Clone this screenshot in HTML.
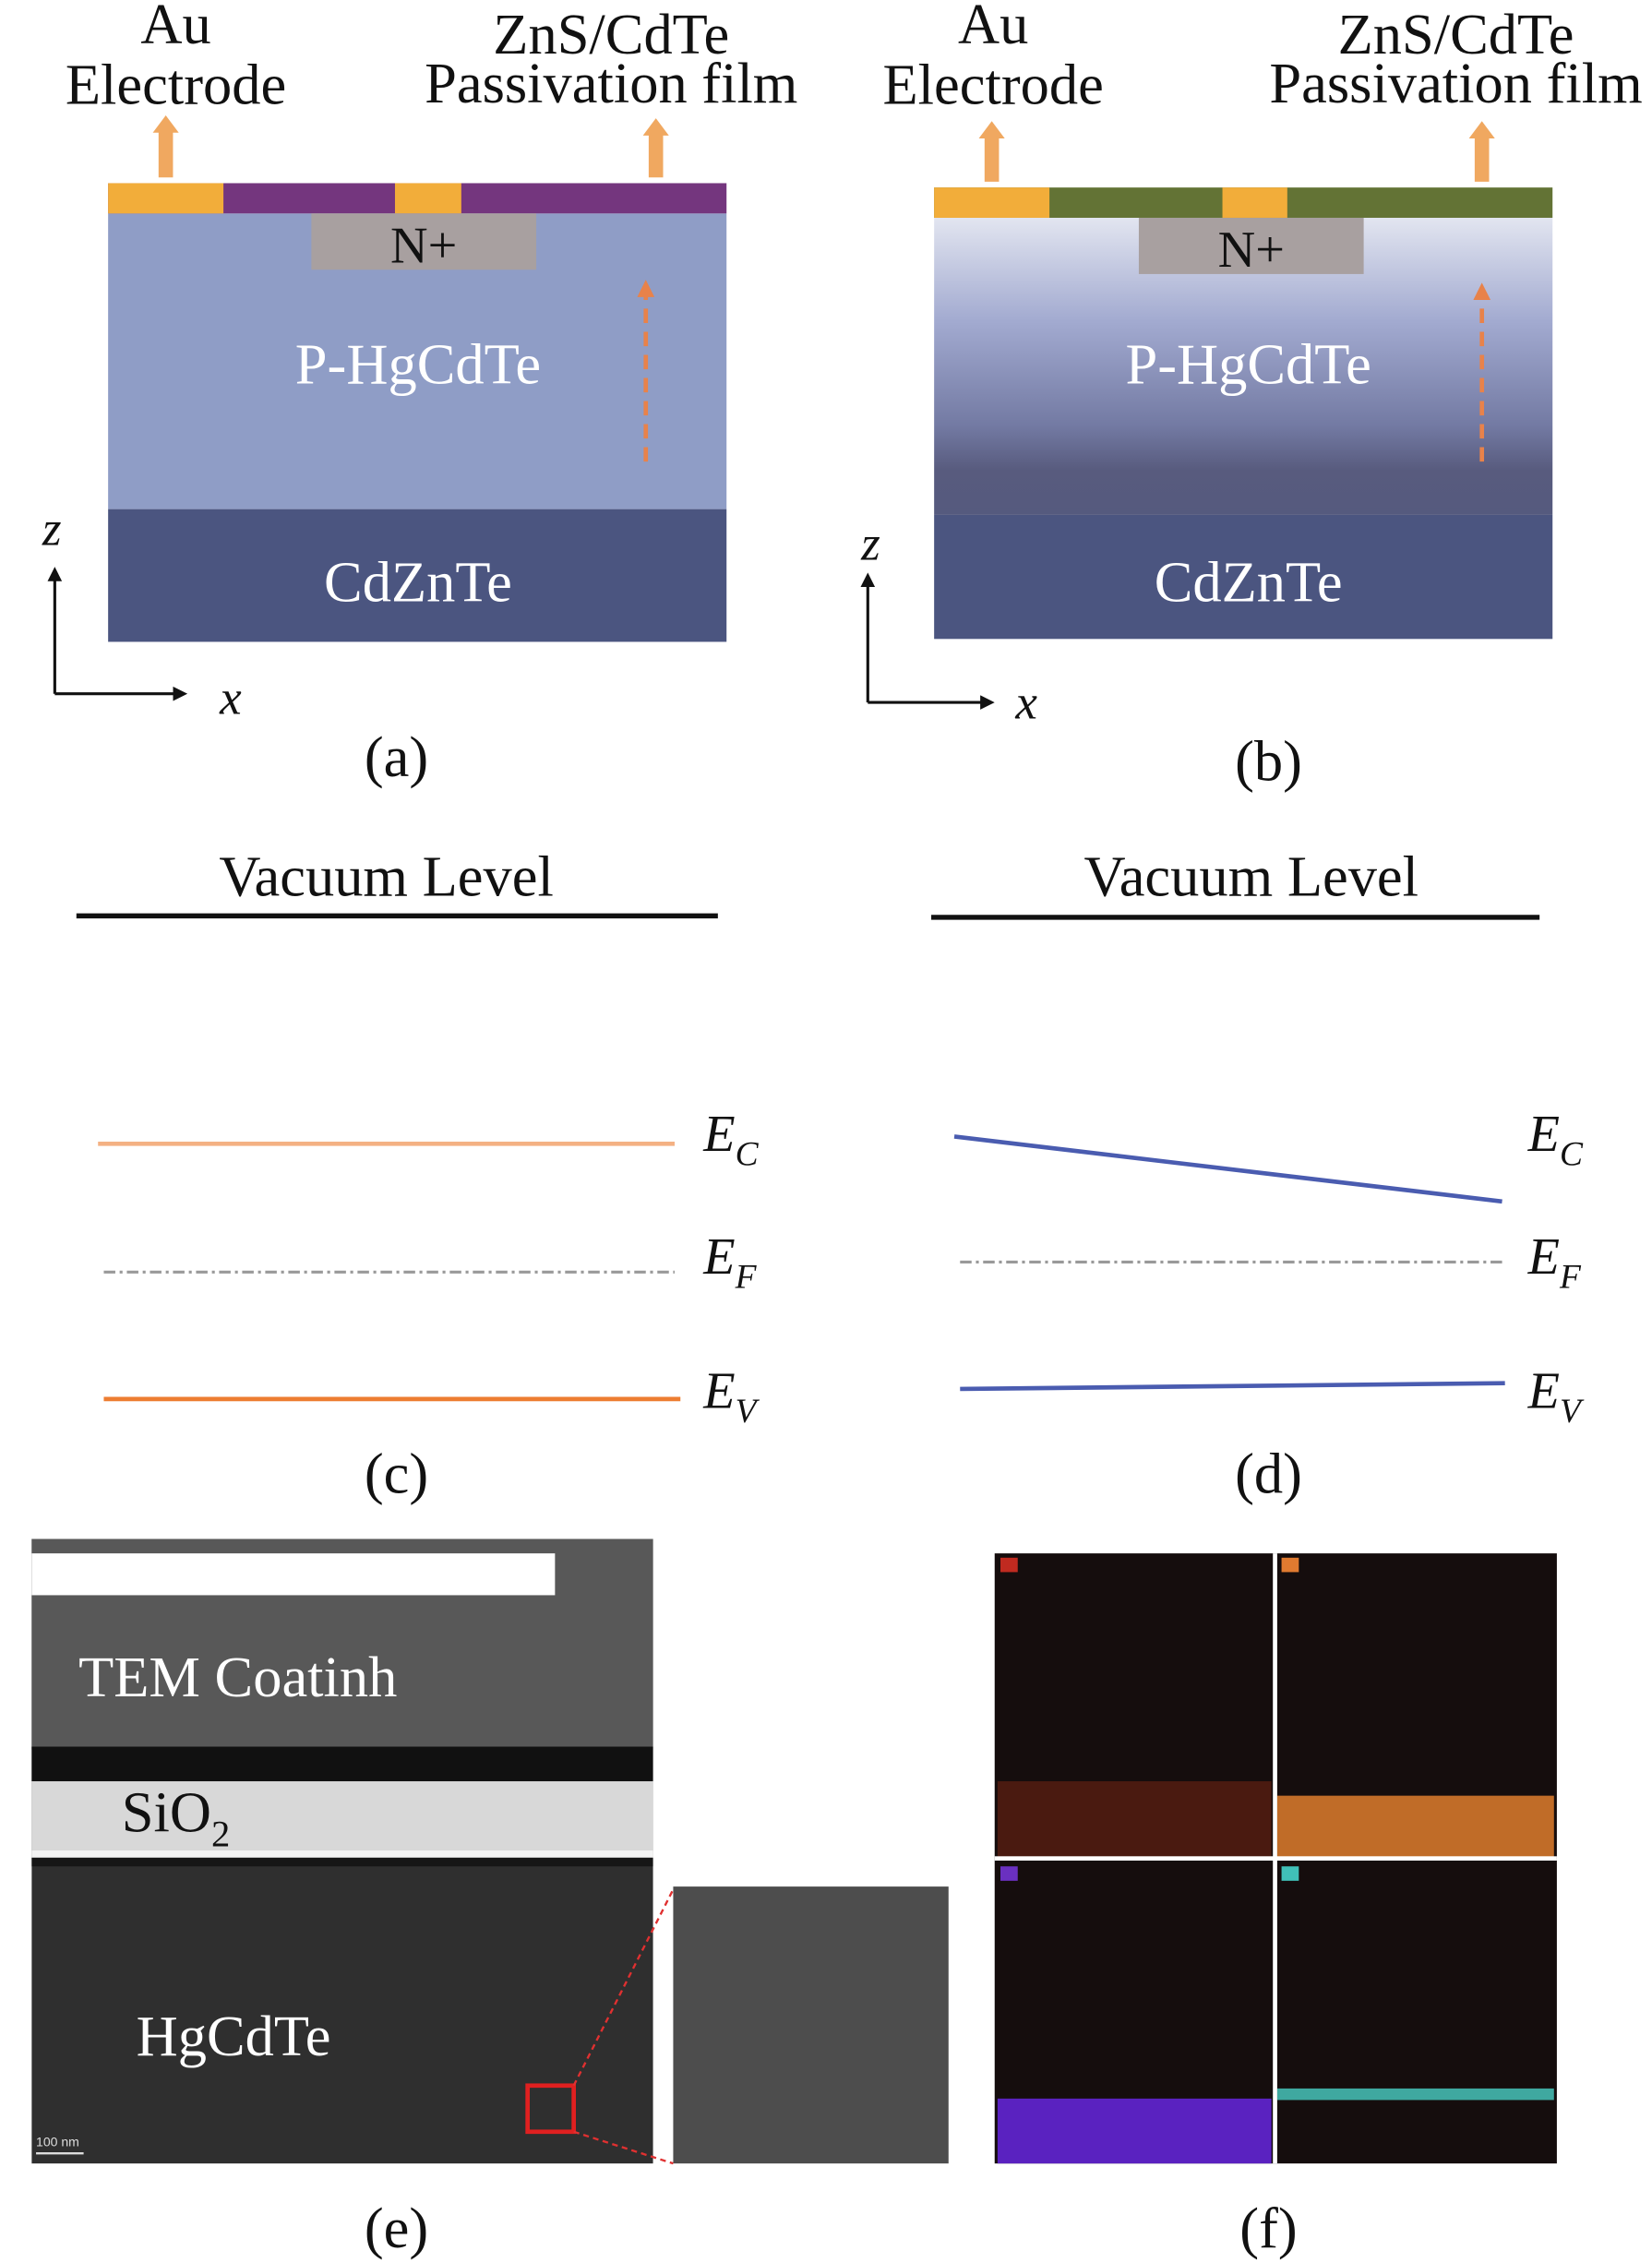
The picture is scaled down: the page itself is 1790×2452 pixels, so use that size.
<!DOCTYPE html>
<html><head><meta charset="utf-8"><style>html,body{margin:0;padding:0;background:#fff}svg{display:block}</style></head>
<body>
<svg width="1790" height="2452" viewBox="0 0 1146 1569" preserveAspectRatio="none" xmlns="http://www.w3.org/2000/svg" font-family="Liberation Serif, serif">
<defs>
<linearGradient id="gb" x1="0" y1="0" x2="0" y2="1">
<stop offset="0" stop-color="#e2e5f0"/><stop offset="0.35" stop-color="#a2aad0"/><stop offset="0.7" stop-color="#737aa3"/><stop offset="0.85" stop-color="#585b7e"/><stop offset="1" stop-color="#555a7e"/>
</linearGradient>
<marker id="ah" viewBox="0 0 10 10" refX="5" refY="5" markerWidth="5" markerHeight="5" orient="auto"><path d="M0,0L10,5L0,10z" fill="#111"/></marker>
<marker id="ao" viewBox="0 0 10 10" refX="5" refY="5" markerWidth="4" markerHeight="4" orient="auto"><path d="M0,0L10,5L0,10z" fill="#e8824a"/></marker>
</defs>
<g font-size="40" fill="#111" text-anchor="middle">
<!-- (a) -->
<text x="122" y="30">Au</text><text x="122" y="72">Electrode</text>
<text x="424" y="37">ZnS/CdTe</text><text x="424" y="71">Passivation film</text>
<path d="M110,123V92H106L115,80L124,92H120V123Z" fill="#f0a860"/>
<path d="M450,123V94H446L455,82L464,94H460V123Z" fill="#f0a860"/>
<rect x="75" y="148" width="429" height="205" fill="#8f9dc6"/>
<rect x="75" y="353" width="429" height="92" fill="#4b5580"/>
<rect x="75" y="127" width="429" height="21" fill="#74367e"/>
<rect x="75" y="127" width="80" height="21" fill="#f2ad3a"/>
<rect x="274" y="127" width="46" height="21" fill="#f2ad3a"/>
<rect x="216" y="148" width="156" height="39" fill="#a8a0a0"/>
<text x="294" y="182" font-size="36">N+</text>
<text x="290" y="266" fill="#fff">P-HgCdTe</text>
<text x="290" y="417" fill="#fff">CdZnTe</text>
<line x1="448" y1="320" x2="448" y2="200" stroke="#e8824a" stroke-width="3" stroke-dasharray="10,6" marker-end="url(#ao)"/>
<line x1="38" y1="481" x2="38" y2="398" stroke="#111" stroke-width="2" marker-end="url(#ah)"/>
<line x1="38" y1="481" x2="125" y2="481" stroke="#111" stroke-width="2" marker-end="url(#ah)"/>
<text x="36" y="378" font-style="italic" font-size="34">z</text>
<text x="160" y="495" font-style="italic" font-size="34">x</text>
<text x="275" y="538">(a)</text>
<!-- (b) -->
<text x="689" y="30">Au</text><text x="689" y="72">Electrode</text>
<text x="1010" y="37">ZnS/CdTe</text><text x="1010" y="71">Passivation film</text>
<path d="M683,126V96H679L688,84L697,96H693V126Z" fill="#f0a860"/>
<path d="M1023,126V96H1019L1028,84L1037,96H1033V126Z" fill="#f0a860"/>
<rect x="648" y="151" width="429" height="206" fill="url(#gb)"/>
<rect x="648" y="357" width="429" height="86" fill="#4b5580"/>
<rect x="648" y="130" width="429" height="21" fill="#637335"/>
<rect x="648" y="130" width="80" height="21" fill="#f2ad3a"/>
<rect x="848" y="130" width="45" height="21" fill="#f2ad3a"/>
<rect x="790" y="151" width="156" height="39" fill="#a8a0a0"/>
<text x="868" y="185" font-size="36">N+</text>
<text x="866" y="266" fill="#fff">P-HgCdTe</text>
<text x="866" y="417" fill="#fff">CdZnTe</text>
<line x1="1028" y1="320" x2="1028" y2="202" stroke="#e8824a" stroke-width="3" stroke-dasharray="10,6" marker-end="url(#ao)"/>
<line x1="602" y1="487" x2="602" y2="402" stroke="#111" stroke-width="2" marker-end="url(#ah)"/>
<line x1="602" y1="487" x2="685" y2="487" stroke="#111" stroke-width="2" marker-end="url(#ah)"/>
<text x="604" y="388" font-style="italic" font-size="34">z</text>
<text x="712" y="498" font-style="italic" font-size="34">x</text>
<text x="880" y="541">(b)</text>
<!-- (c) -->
<text x="268" y="621">Vacuum Level</text>
<line x1="53" y1="635" x2="498" y2="635" stroke="#111" stroke-width="3.5"/>
<line x1="68" y1="793" x2="468" y2="793" stroke="#f4b183" stroke-width="3"/>
<line x1="72" y1="882" x2="468" y2="882" stroke="#999" stroke-width="2" stroke-dasharray="8,3,2,3"/>
<line x1="72" y1="970" x2="472" y2="970" stroke="#ed7d31" stroke-width="3"/>
<g text-anchor="start" font-style="italic" font-size="36">
<text x="488" y="798">E<tspan font-size="24" dy="10">C</tspan></text>
<text x="488" y="883">E<tspan font-size="24" dy="10">F</tspan></text>
<text x="488" y="976">E<tspan font-size="24" dy="10">V</tspan></text>
<text x="1060" y="798">E<tspan font-size="24" dy="10">C</tspan></text>
<text x="1060" y="883">E<tspan font-size="24" dy="10">F</tspan></text>
<text x="1060" y="976">E<tspan font-size="24" dy="10">V</tspan></text>
</g>
<text x="275" y="1035">(c)</text>
<!-- (d) -->
<text x="868" y="621">Vacuum Level</text>
<line x1="646" y1="636" x2="1068" y2="636" stroke="#111" stroke-width="3.5"/>
<line x1="662" y1="788" x2="1042" y2="833" stroke="#4a5cb0" stroke-width="3"/>
<line x1="666" y1="875" x2="1044" y2="875" stroke="#999" stroke-width="2" stroke-dasharray="8,3,2,3"/>
<line x1="666" y1="963" x2="1044" y2="959" stroke="#4a5cb0" stroke-width="3"/>
<text x="880" y="1035">(d)</text>
<!-- (e) -->
<rect x="22" y="1067" width="431" height="433" fill="#2f2f2f"/>
<rect x="22" y="1067" width="431" height="146" fill="#585858"/>
<rect x="22" y="1077" width="363" height="29" fill="#fff"/>
<rect x="22" y="1211" width="431" height="24" fill="#111"/>
<rect x="22" y="1235" width="431" height="50" fill="#d8d8d8"/>
<rect x="22" y="1283" width="431" height="5" fill="#f4f4f4"/>
<rect x="22" y="1288" width="431" height="6" fill="#161616"/>
<text x="165" y="1176" fill="#fff">TEM Coatinh</text>
<text x="122" y="1270" fill="#111">SiO<tspan font-size="26" dy="10">2</tspan></text>
<text x="162" y="1425" fill="#fff">HgCdTe</text>
<text x="25" y="1488" fill="#ddd" font-size="9" text-anchor="start" font-family="Liberation Sans, sans-serif">100 nm</text>
<line x1="25" y1="1493" x2="58" y2="1493" stroke="#ddd" stroke-width="1.5"/>
<rect x="366" y="1446" width="32" height="32" fill="none" stroke="#e02020" stroke-width="3"/>
<rect x="467" y="1308" width="191" height="192" fill="#4d4d4d"/>
<line x1="398" y1="1446" x2="467" y2="1310" stroke="#e03030" stroke-width="1.5" stroke-dasharray="4,3"/>
<line x1="398" y1="1478" x2="467" y2="1500" stroke="#e03030" stroke-width="1.5" stroke-dasharray="4,3"/>
<text x="275" y="1558">(e)</text>
<!-- (f) -->
<rect x="690" y="1077" width="390" height="423" fill="#150d0d"/>
<rect x="692" y="1235" width="190" height="53" fill="#4a1a10"/>
<rect x="886" y="1245" width="192" height="43" fill="#c06c28"/>
<rect x="692" y="1455" width="190" height="45" fill="#5a22c0"/>
<rect x="886" y="1448" width="192" height="8" fill="#3fa8a0"/>
<rect x="883" y="1077" width="3" height="423" fill="#fff"/>
<rect x="690" y="1287" width="390" height="3" fill="#fff"/>
<rect x="694" y="1080" width="12" height="10" fill="#c02a20"/>
<rect x="889" y="1080" width="12" height="10" fill="#e07a30"/>
<rect x="694" y="1294" width="12" height="10" fill="#6a30c0"/>
<rect x="889" y="1294" width="12" height="10" fill="#40c0b8"/>
<text x="880" y="1558">(f)</text>
</g>
</svg>
</body></html>
